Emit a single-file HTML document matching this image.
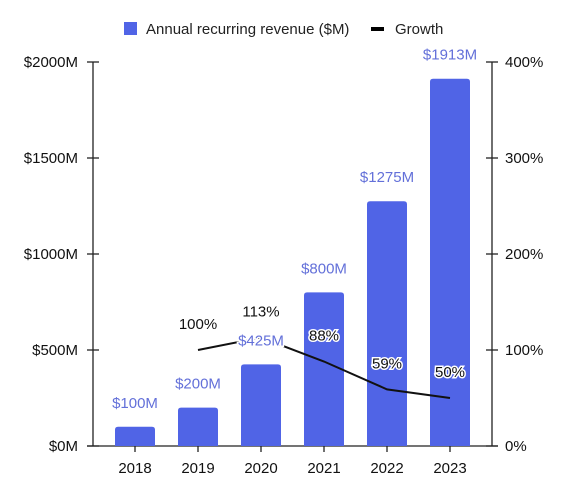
<!DOCTYPE html>
<html><head><meta charset="utf-8"><style>
body{margin:0;background:#fff;font-family:"Liberation Sans",Arial,sans-serif;}
svg text{font-family:"Liberation Sans",Arial,sans-serif;}
</style></head><body>
<svg id="c" width="566" height="497" xmlns="http://www.w3.org/2000/svg">
<g>
<rect x="124" y="22" width="13" height="13" fill="#5064e6"/>
<text x="146" y="34" font-size="15" fill="#222">Annual recurring revenue ($M)</text>
<rect x="371" y="27" width="13" height="4" fill="#000"/>
<text x="395" y="34" font-size="15" fill="#222">Growth</text>
</g>
<g id="axes"></g><g id="bars"></g><g id="line"></g><g id="labels"></g>
</svg>
<script>
const years=["2018","2019","2020","2021","2022","2023"];
const arr=[100,200,425,800,1275,1913];
const growth=[null,100,113,88,59,50];
const leftTicks=[0,500,1000,1500,2000];
const rightTicks=[0,100,200,300,400];
const NS="http://www.w3.org/2000/svg";
const X0=93,X1=492,Y0=446,Y1=62;
const xs=i=>135+i*63;
const yL=v=>Y0-(v/2000)*(Y0-Y1);
const yR=v=>Y0-(v/400)*(Y0-Y1);
function mk(t,a,p){const e=document.createElementNS(NS,t);for(const k in a)e.setAttribute(k,a[k]);p.appendChild(e);return e;}
const ax=document.getElementById('axes');
let e;
e=mk('line',{x1:X0,y1:Y1,x2:X0,y2:Y0,stroke:'#222','stroke-width':1.3},ax);


e=mk('line',{x1:X1,y1:Y1,x2:X1,y2:Y0,stroke:'#222','stroke-width':1.3},ax);


e=mk('line',{x1:X0-6,y1:Y0,x2:X1+6,y2:Y0,stroke:'#222','stroke-width':1.3},ax);


leftTicks.forEach(v=>{const y=yL(v);
mk('line',{x1:X0-6,y1:y,x2:X0+6,y2:y,stroke:'#222','stroke-width':1.3},ax);
e=mk('text',{x:X0-15,y:y+5,'text-anchor':'end','font-size':15,fill:'#111'},ax);e.textContent='$'+v+'M';

});
rightTicks.forEach(v=>{const y=yR(v);
mk('line',{x1:X1-6,y1:y,x2:X1+6,y2:y,stroke:'#222','stroke-width':1.3},ax);
e=mk('text',{x:X1+13,y:y+5,'font-size':15,fill:'#111'},ax);e.textContent=v+'%';

});
const bars=document.getElementById('bars'),lab=document.getElementById('labels');
years.forEach((yr,i)=>{const x=xs(i),t=yL(arr[i]);
e=mk('path',{d:`M${x-20},${Y0}V${t+3}Q${x-20},${t} ${x-17},${t}H${x+17}Q${x+20},${t} ${x+20},${t+3}V${Y0}Z`,fill:'#5064e6'},bars);


mk('line',{x1:x,y1:Y0-7,x2:x,y2:Y0+6,stroke:'#222','stroke-width':1.3},ax);
e=mk('text',{x:x,y:Y0+27,'text-anchor':'middle','font-size':15,fill:'#111'},ax);e.textContent=yr;

});
const pts=[];growth.forEach((g,i)=>{if(g!==null)pts.push([xs(i),yR(g)]);});
e=mk('polyline',{points:pts.map(p=>p.join(',')).join(' '),fill:'none',stroke:'#111','stroke-width':2},document.getElementById('line'));


years.forEach((yr,i)=>{const x=xs(i),t=yL(arr[i]);
e=mk('text',{x:x,y:t-19,'text-anchor':'middle','font-size':15,fill:'#6370d9',stroke:'#fff','stroke-width':3,'paint-order':'stroke'},lab);e.textContent='$'+arr[i]+'M';

});
growth.forEach((g,i)=>{if(g===null)return;
e=mk('text',{x:xs(i),y:yR(g)-21,'text-anchor':'middle','font-size':15,fill:'#111',stroke:'#fff','stroke-width':3,'paint-order':'stroke'},lab);e.textContent=g+'%';

});
</script>
</body></html>
